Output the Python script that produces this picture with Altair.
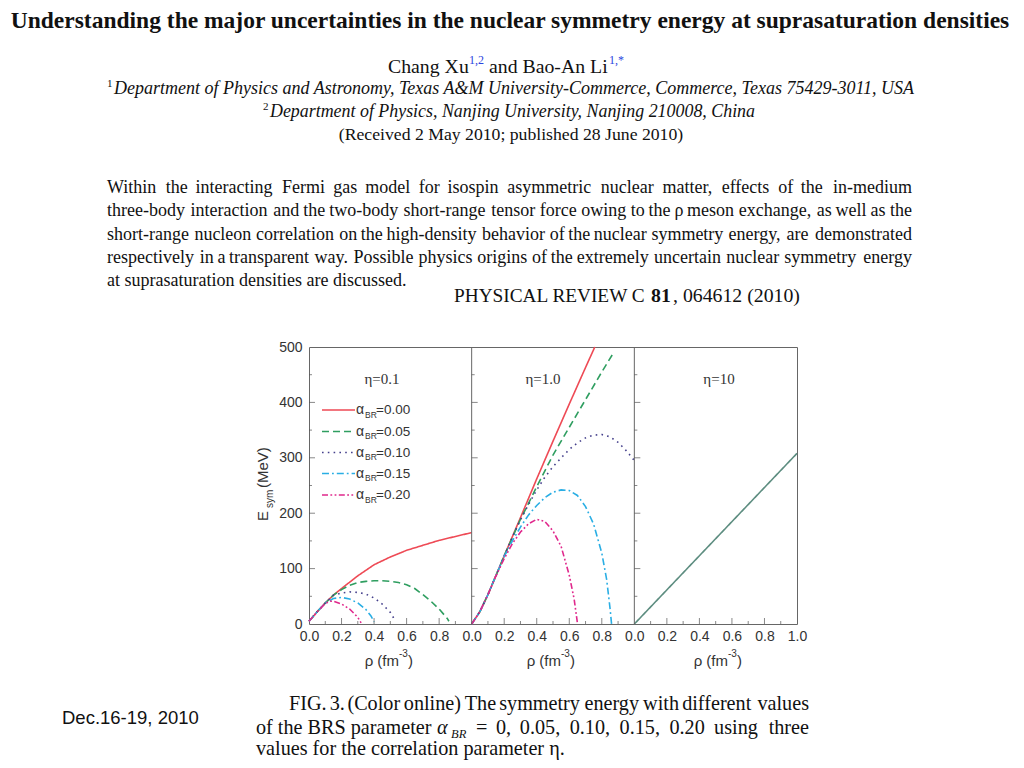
import altair as alt
import pandas as pd

# ---------------- curve data ----------------
alpha_keys = ["0.00", "0.05", "0.10", "0.15", "0.20", "all"]
line_colors = ["#ee4a55", "#2f9e60", "#45408c", "#2aaee4", "#e0288c", "#5d8d80"]
line_dashes = [[1, 0], [7, 4], [1.6, 4.2], [7, 3, 1.8, 3], [6, 2.4, 1.8, 2.4, 1.8, 2.4], [1, 0]]

# eta = 0.1
e01_a000_rho = [0.0, 0.05, 0.1, 0.15, 0.2, 0.3, 0.4, 0.5, 0.6, 0.7, 0.8, 0.9, 1.0]
e01_a000_E = [5, 22, 38, 52, 64, 87, 107, 121, 133, 142, 151, 158, 165]
e01_a005_rho = [0.0, 0.05, 0.1, 0.15, 0.2, 0.25, 0.3, 0.35, 0.4, 0.45, 0.5, 0.55, 0.6, 0.65, 0.7, 0.75, 0.8, 0.85, 0.86]
e01_a005_E = [5, 22, 38, 52, 62, 70, 75, 77, 78, 78, 77, 75, 71, 64, 53, 41, 27, 10, 5]
e01_a010_rho = [0.0, 0.05, 0.1, 0.15, 0.2, 0.25, 0.3, 0.35, 0.4, 0.45, 0.5, 0.53]
e01_a010_E = [5, 22, 38, 52, 56, 58, 57, 54, 47, 36, 21, 6]
e01_a015_rho = [0.0, 0.05, 0.1, 0.15, 0.2, 0.25, 0.3, 0.35, 0.38, 0.4]
e01_a015_E = [5, 22, 38, 46, 48, 45, 38, 26, 15, 4]
e01_a020_rho = [0.0, 0.05, 0.1, 0.13, 0.15, 0.2, 0.25, 0.3, 0.32]
e01_a020_E = [5, 22, 37, 41, 41, 36, 27, 12, 2]

# eta = 1.0
e10_a000_rho = [0.0, 0.05, 0.1, 0.15, 0.2, 0.3, 0.4, 0.5, 0.6, 0.7, 0.757]
e10_a000_E = [0, 22, 53, 88, 123, 192, 262, 330, 397, 463, 500]
e10_a005_rho = [0.0, 0.05, 0.1, 0.15, 0.2, 0.3, 0.35, 0.4, 0.5, 0.6, 0.7, 0.8, 0.873]
e10_a005_E = [0, 22, 53, 88, 123, 189, 218, 248, 305, 355, 405, 455, 490]
e10_a010_rho = [0.0, 0.05, 0.1, 0.15, 0.2, 0.25, 0.3, 0.35, 0.4, 0.45, 0.5, 0.55, 0.6, 0.65, 0.7, 0.75, 0.8, 0.85, 0.9, 0.95, 1.0]
e10_a010_E = [0, 22, 53, 88, 123, 157, 188, 216, 242, 265, 284, 300, 315, 327, 336, 341, 342, 338, 328, 313, 295]
e10_a015_rho = [0.0, 0.05, 0.1, 0.15, 0.2, 0.25, 0.3, 0.35, 0.4, 0.45, 0.5, 0.55, 0.6, 0.65, 0.7, 0.75, 0.8, 0.83, 0.85, 0.86]
e10_a015_E = [0, 22, 53, 88, 122, 150, 175, 197, 214, 228, 238, 242, 241, 232, 212, 180, 128, 80, 30, 0]
e10_a020_rho = [0.0, 0.05, 0.1, 0.15, 0.2, 0.25, 0.3, 0.35, 0.4, 0.45, 0.5, 0.55, 0.6, 0.63, 0.65]
e10_a020_E = [0, 22, 53, 87, 118, 145, 166, 181, 189, 185, 168, 140, 88, 45, 2]

# eta = 10 (all alpha_BR curves coincide)
e100_all_rho = [0.0, 0.5, 1.0]
e100_all_E = [0, 154, 308]

panel_offsets = [0, 1, 2]
panel_names = ["η=0.1", "η=1.0", "η=10"]
rho_tick_labels = [0.0, 0.2, 0.4, 0.6, 0.8, 1.0]
e_tick_labels = [0, 100, 200, 300, 400, 500]
e_ticks_major = [100, 200, 300, 400]
e_ticks_minor = [50, 150, 250, 350, 450]
rho_ticks_major = [0.2, 0.4, 0.6, 0.8]
rho_ticks_minor = [0.1, 0.3, 0.5, 0.7, 0.9]

# ---------------- slide text ----------------
title_text = "Understanding the major uncertainties in the nuclear symmetry energy at suprasaturation densities"
abstract_lines = [
    "Within the interacting Fermi gas model for isospin asymmetric nuclear matter, effects of the in-medium",
    "three-body interaction and the two-body short-range tensor force owing to the ρ meson exchange, as well as the",
    "short-range nucleon correlation on the high-density behavior of the nuclear symmetry energy, are demonstrated",
    "respectively in a transparent way. Possible physics origins of the extremely uncertain nuclear symmetry energy",
    "at suprasaturation densities are discussed.",
]
caption_line1 = "FIG. 3. (Color online) The symmetry energy with different values"
caption_line2_tail = "= 0, 0.05, 0.10, 0.15, 0.20 using three"
caption_line3 = "values for the correlation parameter η."

# ---------------- layout constants ----------------
X0, Y0 = 309, 347      # page position of plot area's top-left
PW, PH = 488, 277
SERIF = "Liberation Serif"
SANS = "Liberation Sans"

# approximate Times advance widths (per 1000 em) used only to space words
_W = {c: v for c, v in zip("abcdefghijklmnopqrstuvwxyz",
      [444, 500, 444, 500, 444, 333, 500, 500, 278, 278, 500, 278, 778, 500, 500, 500, 500, 333, 389, 278, 500, 500, 722, 500, 500, 444])}
_W.update({c: v for c, v in zip("ABCDEFGHIJKLMNOPQRSTUVWXYZ",
      [722, 667, 667, 722, 611, 556, 722, 722, 333, 389, 722, 611, 889, 722, 722, 556, 722, 667, 556, 611, 722, 722, 944, 722, 722, 611])})
_W.update({" ": 250, ",": 250, ".": 250, "-": 333, "(": 333, ")": 333, ";": 278, ":": 278, "&": 778, "=": 564})


def tw(s, size):
    return 1.03 * sum(_W.get(ch, 500) for ch in s) / 1000.0 * size


curve_sets = [
    (0, "0.00", e01_a000_rho, e01_a000_E), (0, "0.05", e01_a005_rho, e01_a005_E),
    (0, "0.10", e01_a010_rho, e01_a010_E), (0, "0.15", e01_a015_rho, e01_a015_E),
    (0, "0.20", e01_a020_rho, e01_a020_E),
    (1, "0.00", e10_a000_rho, e10_a000_E), (1, "0.05", e10_a005_rho, e10_a005_E),
    (1, "0.10", e10_a010_rho, e10_a010_E), (1, "0.15", e10_a015_rho, e10_a015_E),
    (1, "0.20", e10_a020_rho, e10_a020_E),
    (2, "all", e100_all_rho, e100_all_E),
]
curves = pd.concat(
    [pd.DataFrame({"panel": p, "alpha": a, "rho": r, "E": e}) for p, a, r, e in curve_sets],
    ignore_index=True,
)

x_label_vals = [o + t for o in panel_offsets[:2] for t in rho_tick_labels[:-1]] + \
               [panel_offsets[2] + t for t in rho_tick_labels]

xscale = alt.Scale(domain=[0, 3], nice=False, zero=False)
yscale = alt.Scale(domain=[0, 500], nice=False)
xaxis = alt.Axis(values=x_label_vals, title=None, domain=False, ticks=False, grid=False,
                 labelExpr="datum.value > 2.999 ? '1.0' : format(abs(datum.value - floor(datum.value + 0.0001)), '.1f')",
                 labelFont=SANS, labelFontSize=14, labelColor="#333", labelPadding=5,
                 labelFlush=False, labelOverlap=False, labelBound=False)
yaxis = alt.Axis(values=e_tick_labels, title=None, domain=False, ticks=False, grid=False,
                 labelFont=SANS, labelFontSize=14, labelColor="#333", labelPadding=7,
                 labelOverlap=False)
cscale = alt.Scale(domain=alpha_keys, range=line_colors)
dscale = alt.Scale(domain=alpha_keys, range=line_dashes)


def XQ(f):
    return alt.X(f, scale=xscale, axis=xaxis)


def YQ(f):
    return alt.Y(f, scale=yscale, axis=yaxis)


layers = []

lines = alt.Chart(curves).transform_calculate(xp="datum.rho + datum.panel").mark_line(strokeWidth=1.6).encode(
    x=XQ("xp:Q"), y=YQ("E:Q"),
    color=alt.Color("alpha:N", scale=cscale, legend=None),
    strokeDash=alt.StrokeDash("alpha:N", scale=dscale, legend=None),
    detail="panel:N",
)
layers.append(lines)

# panel separators
sep_df = pd.DataFrame({"b": panel_offsets[1:]})
layers.append(alt.Chart(sep_df).mark_rule(color="#666", strokeWidth=1).encode(
    x=XQ("b:Q"), y=alt.value(0), y2=alt.value(PH)))

# inward ticks
TICK = "#555"
yt_major = pd.DataFrame([(o, v) for o in panel_offsets for v in e_ticks_major], columns=["pos", "val"])
yt_minor = pd.DataFrame([(o, v) for o in panel_offsets for v in e_ticks_minor], columns=["pos", "val"])
xt_major = pd.DataFrame([(o + t, 0) for o in panel_offsets for t in rho_ticks_major], columns=["pos", "val"])
xt_minor = pd.DataFrame([(o + t, 0) for o in panel_offsets for t in rho_ticks_minor], columns=["pos", "val"])
layers.append(alt.Chart(yt_major).mark_tick(orient="horizontal", size=6, thickness=1, xOffset=3, color=TICK)
              .encode(x=XQ("pos:Q"), y=YQ("val:Q")))
layers.append(alt.Chart(yt_minor).mark_tick(orient="horizontal", size=3, thickness=1, xOffset=1.5, color=TICK)
              .encode(x=XQ("pos:Q"), y=YQ("val:Q")))
layers.append(alt.Chart(xt_major).mark_tick(orient="vertical", size=6, thickness=1, yOffset=-3, color=TICK)
              .encode(x=XQ("pos:Q"), y=YQ("val:Q")))
layers.append(alt.Chart(xt_minor).mark_tick(orient="vertical", size=3, thickness=1, yOffset=-1.5, color=TICK)
              .encode(x=XQ("pos:Q"), y=YQ("val:Q")))


def txt(s, X, Y, size, font=SERIF, weight="normal", style="normal", align="left",
        color="#111", angle=0, baseline="middle"):
    kw = dict(font=font, fontSize=size, fontWeight=weight, fontStyle=style, align=align,
              color=color, baseline=baseline)
    if angle:
        kw["angle"] = angle
    return alt.Chart(pd.DataFrame({"t": [s]})).mark_text(**kw).encode(
        text=alt.Text("t:N"), x=alt.value(X - X0), y=alt.value(Y - Y0))


def justified(line, xl, xr, y, size, **kw):
    words = line.split(" ")
    widths = [tw(w, size) for w in words]
    gap = (xr - xl - sum(widths)) / (len(words) - 1)
    out = []
    x = xl
    for i, (w, wd) in enumerate(zip(words, widths)):
        if i == len(words) - 1:
            out.append(txt(w, xr, y, size, align="right", **kw))
        else:
            out.append(txt(w, x, y, size, **kw))
        x += wd + gap
    return out


# ---- header ----
layers.append(txt(title_text, 510, 21, 23.5, weight="bold", align="center"))
AU = 19.8
layers.append(txt("Chang Xu", 388, 67, AU))
layers.append(txt("1,2", 469, 60, 12, color="#2b45e0"))
layers.append(txt("and Bao-An Li", 489, 67, AU))
layers.append(txt("1,*", 609, 60, 12, color="#2b45e0"))
layers.append(txt("1", 107, 84, 11))
layers.append(txt("Department of Physics and Astronomy, Texas A&M University-Commerce, Commerce, Texas 75429-3011, USA",
                  114, 89, 18, style="italic"))
layers.append(txt("2", 263, 107, 11))
layers.append(txt("Department of Physics, Nanjing University, Nanjing 210008, China", 270, 112, 17.9, style="italic"))
layers.append(txt("(Received 2 May 2010; published 28 June 2010)", 511, 135, 17.7, align="center"))

abs_y = [188, 211, 235, 258, 281]
for k, line in enumerate(abstract_lines):
    if k < len(abstract_lines) - 1:
        layers.extend(justified(line, 107, 912, abs_y[k], 18))
    else:
        layers.append(txt(line, 107, abs_y[k], 18))

layers.append(txt("PHYSICAL REVIEW C", 454, 296, 19.3))
layers.append(txt("81", 651, 296, 19.8, weight="bold"))
layers.append(txt(", 064612 (2010)", 673, 296, 19.8))

# ---- panel annotations ----
eta_cx = [382, 543, 719]
for name, cx in zip(panel_names, eta_cx):
    layers.append(txt(name, cx, 379, 15, color="#333", align="center"))

# legend
leg_y = [410, 431.5, 452.5, 473.5, 495]
for i in range(5):
    layers.append(alt.Chart(pd.DataFrame({"alpha": [alpha_keys[i]]})).mark_rule(strokeWidth=1.6).encode(
        x=alt.value(322 - X0), x2=alt.value(355 - X0), y=alt.value(leg_y[i] - Y0),
        color=alt.Color("alpha:N", scale=cscale, legend=None),
        strokeDash=alt.StrokeDash("alpha:N", scale=dscale, legend=None)))
    layers.append(txt("α", 356, leg_y[i], 14, font=SANS, color="#333"))
    layers.append(txt("BR", 365, leg_y[i] + 4.5, 8.5, font=SANS, color="#333"))
    layers.append(txt("=" + alpha_keys[i], 376, leg_y[i], 13.5, font=SANS, color="#333"))

# axis titles
layers.append(txt("E", 263, 521, 15, font=SANS, color="#333", angle=270))
layers.append(txt("sym", 269.5, 508, 10, font=SANS, color="#333", angle=270))
layers.append(txt("(MeV)", 263, 488, 15, font=SANS, color="#333", angle=270))
for cx in [388, 550, 717]:
    layers.append(txt("ρ (fm", cx + 11, 661, 15, font=SANS, color="#333", align="right"))
    layers.append(txt("-3", cx + 11, 654, 10, font=SANS, color="#333"))
    layers.append(txt(")", cx + 20, 661, 15, font=SANS, color="#333"))

# ---- caption ----
CS = 20.2
layers.extend(justified(caption_line1, 289, 809, 704, CS))
layers.append(txt("of the BRS parameter", 256, 728, CS))
layers.append(txt("α", 437, 728, CS, style="italic"))
layers.append(txt("BR", 451, 734, 12.5, style="italic"))
layers.extend(justified(caption_line2_tail, 476, 809, 728, CS))
layers.append(txt(caption_line3, 256, 749, CS))
layers.append(txt("Dec.16-19, 2010", 62, 718, 18.5, font=SANS, color="#111"))

chart = alt.layer(*layers).properties(
    width=PW, height=PH,
    autosize=alt.AutoSizeParams(type="none"),
    padding={"left": X0 - 8, "top": Y0 - 8, "right": 1008 - (X0 - 8) - PW, "bottom": 752 - (Y0 - 8) - PH},
    background="white",
).configure_view(stroke="#666", strokeWidth=1)

chart.save("out.html", embed_options={"renderer": "svg", "actions": False})
